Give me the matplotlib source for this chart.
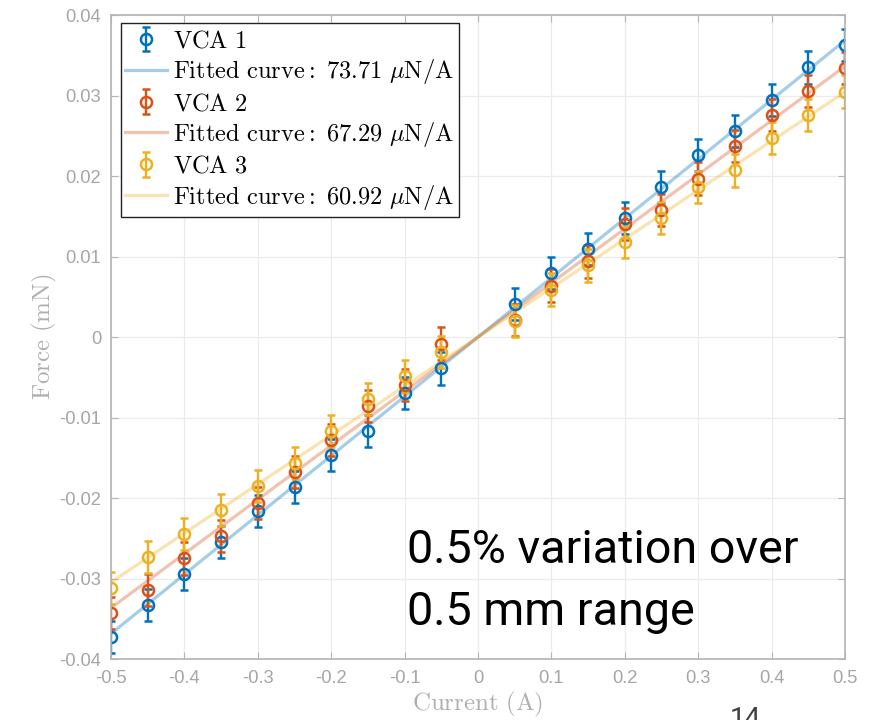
import numpy as np
import matplotlib
matplotlib.use('Agg')
import matplotlib.pyplot as plt

plt.rcParams['mathtext.fontset'] = 'cm'

current = [-0.5, -0.45, -0.4, -0.35, -0.3, -0.25, -0.2, -0.15, -0.1, -0.05,
           0.05, 0.1, 0.15, 0.2, 0.25, 0.3, 0.35, 0.4, 0.45, 0.5]
vca1 = [-0.0373, -0.0333, -0.0294, -0.0255, -0.0216, -0.0186, -0.0147, -0.0117, -0.0069, -0.0039,
        0.0041, 0.0080, 0.0109, 0.0148, 0.0186, 0.0226, 0.0256, 0.0295, 0.0335, 0.0363]
vca2 = [-0.0343, -0.0314, -0.0275, -0.0247, -0.0206, -0.0168, -0.0128, -0.0086, -0.0060, -0.0008,
        0.0021, 0.0064, 0.0094, 0.0140, 0.0158, 0.0197, 0.0237, 0.0276, 0.0306, 0.0334]
vca3 = [-0.0312, -0.0273, -0.0245, -0.0215, -0.0185, -0.0156, -0.0117, -0.0077, -0.0048, -0.0019,
        0.0020, 0.0059, 0.0089, 0.0118, 0.0148, 0.0186, 0.0207, 0.0247, 0.0276, 0.0305]
err = 0.002
slopes = [73.71, 67.29, 60.92]   # uN/A
names = ['VCA 1', 'VCA 2', 'VCA 3']
colors = ['#0072BD', '#D95319', '#EDB120']
fit_x = [-0.5, 0.5]

xticks = [-0.5, -0.4, -0.3, -0.2, -0.1, 0, 0.1, 0.2, 0.3, 0.4, 0.5]
yticks = [-0.04, -0.03, -0.02, -0.01, 0, 0.01, 0.02, 0.03, 0.04]

fig = plt.figure(figsize=(8.77, 7.2), dpi=100)
ax = fig.add_axes([0.1266, 0.0847, 0.8369, 0.8943])

handles = []
for data, slope, name, c in zip([vca1, vca2, vca3], slopes, names, colors):
    eb = ax.errorbar(current, data, yerr=err, fmt='o', color=c, mfc='none', ms=8, mew=1.8,
                     elinewidth=1.7, capsize=2.9, capthick=1.7,
                     label=r'$\mathrm{%s}$' % name.replace(' ', r'\ '))
    fy = slope / 1000.0 * np.array(fit_x)
    ln, = ax.plot(fit_x, fy, color=c, alpha=0.35, lw=2.3,
                  label=r'$\mathrm{Fitted\ curve{:}\ %.2f\ }\mu\mathrm{N/A}$' % slope)
    handles += [eb, ln]

ax.set_xlim(-0.5, 0.5)
ax.set_ylim(-0.04, 0.04)
ax.set_xticks(xticks)
ax.set_yticks(yticks)
ax.set_xticklabels(['%g' % t for t in xticks])
ax.set_yticklabels(['%g' % t for t in yticks])
ax.grid(True, color='#ebebeb', lw=0.9)
ax.set_axisbelow(True)
for s in ax.spines.values():
    s.set_color('#b4b4b4')
    s.set_linewidth(1.2)
ax.tick_params(direction='in', top=True, right=True, length=5, color='#b4b4b4',
               labelcolor='#a6a6a6', labelsize=13.2)
ax.tick_params(axis='x', pad=8)
ax.tick_params(axis='y', pad=7)
for lab in ax.get_xticklabels() + ax.get_yticklabels():
    lab.set_family('Liberation Sans')

ax.set_xlabel(r'$\mathrm{Current\ (A)}$', fontsize=18, color='#b0b0b0', labelpad=2)
ax.set_ylabel(r'$\mathrm{Force\ (mN)}$', fontsize=18, color='#b0b0b0', labelpad=0)

leg = ax.legend(handles=handles, loc='upper left', bbox_to_anchor=(0.013, 0.987), fontsize=17.6,
                frameon=True, fancybox=False, framealpha=1, edgecolor='#222222',
                handlelength=1.7, labelspacing=0.2, borderpad=0.2, handletextpad=0.25,
                borderaxespad=0)
leg.get_frame().set_linewidth(1.0)

fig.text(0.464, 1 - 563 / 720.0, '0.5% variation over', family='Roboto', weight='normal',
         fontsize=33.7, va='baseline', ha='left')
fig.text(0.464, 1 - 625 / 720.0, '0.5 mm range', family='Roboto', weight='normal',
         fontsize=33.7, va='baseline', ha='left')
fig.text(0.8325, 1 - 727 / 720.0, '14', family='Roboto', fontsize=20, color='#404040',
         va='baseline', ha='left')

fig.savefig('out.png', dpi=100)
